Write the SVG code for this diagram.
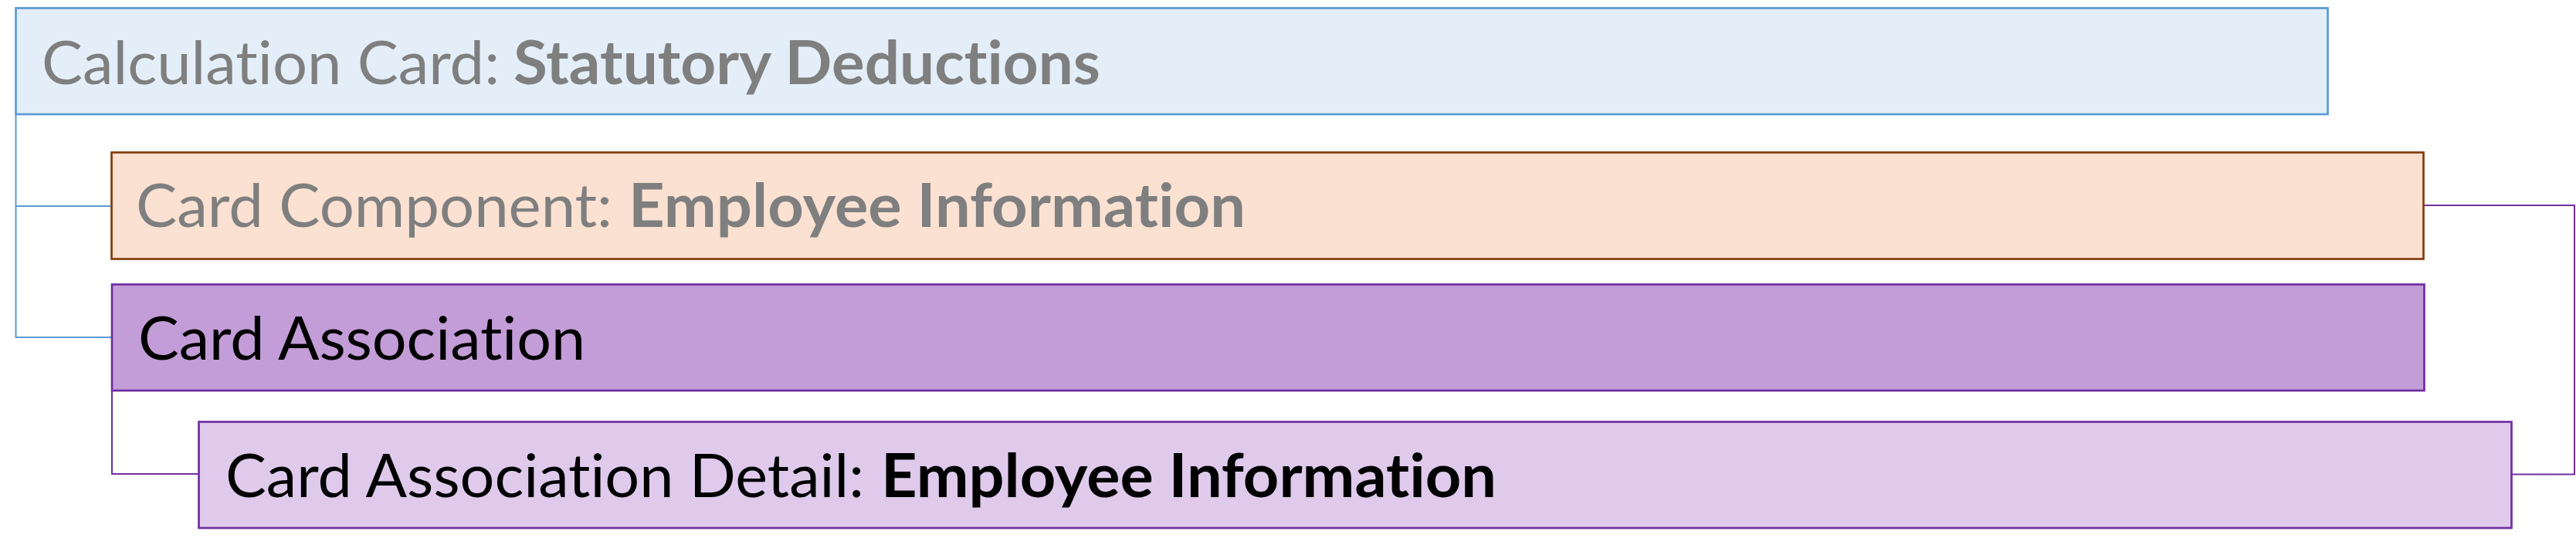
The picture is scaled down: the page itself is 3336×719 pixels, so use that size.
<svg xmlns="http://www.w3.org/2000/svg" width="3336" height="719" viewBox="0 0 3336 719">
<style>
.box{stroke-width:2.7}
.t{font-family:Lato,"Open Sans",sans-serif;font-size:78px;font-variant-ligatures:none;font-feature-settings:"liga" 0,"clig" 0}
.b{font-weight:bold}
.g{fill:#7F7F7F}
.k{fill:#000000}
.c{fill:none;stroke-width:2}
</style>
<rect width="3336" height="719" fill="#FFFFFF"/>
<g id="connectors">
<path class="c" stroke="#5B9BD5" d="M20.5,148 V437 H145 M20.5,267 H144.5"/>
<path class="c" stroke="#7030A0" d="M145,506 V614 H257.5"/>
<path class="c" stroke="#7030A0" d="M3138.5,266 H3334 V614.5 H3252.5"/>
</g>
<g id="calculation-card">
<rect class="box" x="20.5" y="10.5" width="2994" height="137.5" fill="#E3EEF8" stroke="#5B9BD5"/>
<text class="t g" x="54" y="108.5" textLength="593" lengthAdjust="spacingAndGlyphs">Calculation Card:</text>
<text class="t g b" x="665" y="108.5" textLength="760" lengthAdjust="spacingAndGlyphs">Statutory Deductions</text>
</g>
<g id="card-component">
<rect class="box" x="144.5" y="197.5" width="2994" height="138" fill="#FAE1D2" stroke="#843C0C"/>
<text class="t g" x="176" y="293.5" textLength="617" lengthAdjust="spacingAndGlyphs">Card Component:</text>
<text class="t g b" x="814" y="293.5" textLength="799" lengthAdjust="spacingAndGlyphs">Employee Information</text>
</g>
<g id="card-association">
<rect class="box" x="145" y="368.5" width="2994.5" height="137.5" fill="#C39DD7" stroke="#7030A0"/>
<text class="t k" x="179" y="465.5" textLength="579" lengthAdjust="spacingAndGlyphs">Card Association</text>
</g>
<g id="card-association-detail">
<rect class="box" x="257.5" y="546.5" width="2995" height="137.5" fill="#DFCAEC" stroke="#7030A0"/>
<text class="t k" x="292" y="644" textLength="827" lengthAdjust="spacingAndGlyphs">Card Association Detail:</text>
<text class="t k b" x="1141" y="644" textLength="797" lengthAdjust="spacingAndGlyphs">Employee Information</text>
</g>
</svg>
